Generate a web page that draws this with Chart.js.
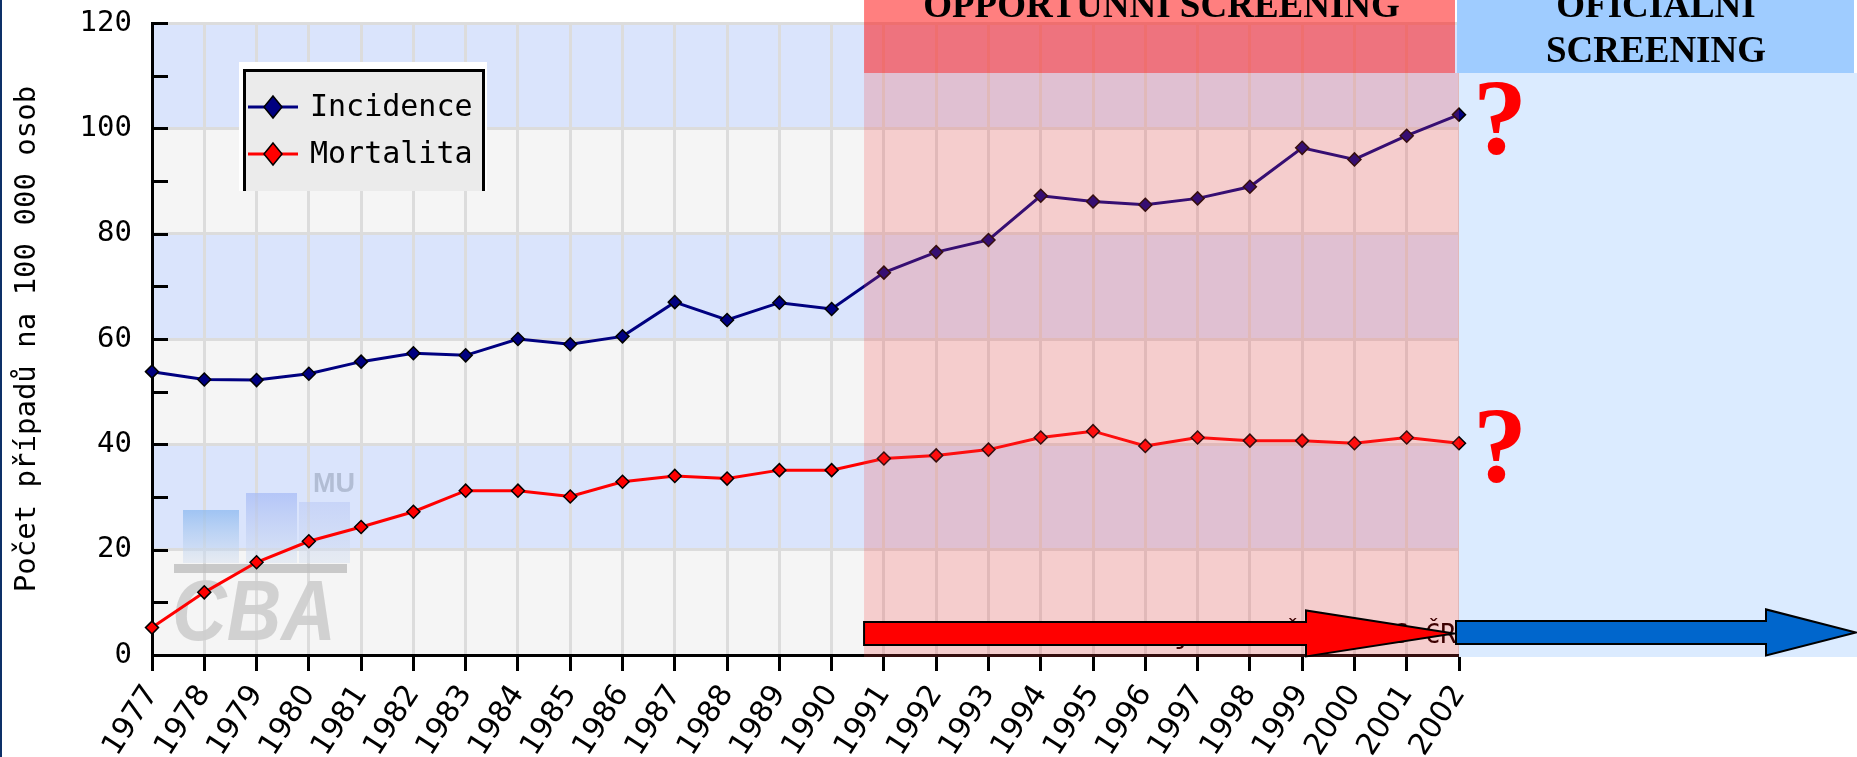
<!DOCTYPE html>
<html><head><meta charset="utf-8">
<script src="https://cdn.jsdelivr.net/npm/chart.js@4/dist/chart.umd.min.js"></script>
<style>html,body{margin:0;padding:0;background:#fff;overflow:hidden}canvas{display:block}</style>
</head><body>
<canvas id="c" width="1857" height="757"></canvas>
<script>
const years = ['1977','1978','1979','1980','1981','1982','1983','1984','1985','1986','1987','1988','1989','1990','1991','1992','1993','1994','1995','1996','1997','1998','1999','2000','2001','2002'];
const incidence = [53.8,52.3,52.2,53.4,55.7,57.3,56.9,60.0,59.0,60.5,67.0,63.6,66.9,65.7,72.6,76.5,78.8,87.2,86.1,85.5,86.7,88.9,96.3,94.1,98.6,102.6];
const mortality = [5.2,11.9,17.6,21.6,24.3,27.2,31.2,31.2,30.1,32.9,34.0,33.5,35.1,35.1,37.3,37.9,39.0,41.3,42.5,39.7,41.3,40.7,40.7,40.2,41.3,40.2];
const seriesNames = ['Incidence','Mortalita'];
const seriesColors = ['#000080','#ff0000'];
const yTickValues = [0,20,40,60,80,100,120];
const yAxisTitle = 'Počet případů na 100 000 osob';
const phaseNames = [['OPPORTUNNÍ SCREENING'],['OFICIÁLNÍ','SCREENING']];
const phaseStartIndex = [13.62, 25];
const sourceNote = 'Zdroj: NOR ČR, ÚZIS ČR';
const watermarkText = ['CBA','MU'];

const MONO = '"DejaVu Sans Mono", monospace';
const SERIF = '"Liberation Serif", "Times New Roman", serif';
const SANS = '"Liberation Sans", Arial, sans-serif';

function diamond(ctx, x, y, hw, hh, fill){
  ctx.beginPath();
  ctx.moveTo(x, y-hh); ctx.lineTo(x+hw, y); ctx.lineTo(x, y+hh); ctx.lineTo(x-hw, y); ctx.closePath();
  ctx.fillStyle = fill; ctx.fill();
  ctx.lineWidth = 1.5; ctx.strokeStyle = '#000'; ctx.stroke();
}

const decor = {
  id: 'decor',
  beforeDraw(chart){
    const {ctx, chartArea:a, scales:{y}} = chart;
    ctx.save();
    ctx.fillStyle = '#fff'; ctx.fillRect(0,0,chart.width,chart.height);
    for (let i=0;i<yTickValues.length-1;i++){
      const y0 = y.getPixelForValue(yTickValues[i]), y1 = y.getPixelForValue(yTickValues[i+1]);
      ctx.fillStyle = i%2===0 ? '#f5f5f5' : '#dae4fc';
      ctx.fillRect(a.left, y1, a.right-a.left, y0-y1);
    }
    ctx.fillStyle = '#0d3068'; ctx.fillRect(0,0,2,chart.height);
    ctx.restore();
  },
  beforeDatasetsDraw(chart){
    const {ctx, chartArea:a, scales:{x,y}} = chart;
    ctx.save();
    // watermark logo
    const bars = [[183,510,56,'rgba(140,185,240,0.75)'],[246,493,51,'rgba(160,182,245,0.65)'],[299,502,51,'rgba(185,200,245,0.55)']];
    bars.forEach(([bx,by,bw,c])=>{
      const g = ctx.createLinearGradient(0,by,0,563);
      g.addColorStop(0,c); g.addColorStop(1,'rgba(215,225,240,0.5)');
      ctx.fillStyle = g; ctx.fillRect(bx,by,bw,563-by);
    });
    ctx.fillStyle = 'rgba(190,190,190,0.8)'; ctx.fillRect(174,564,173,9);
    ctx.save();
    ctx.translate(172,640); ctx.scale(0.88,1);
    ctx.fillStyle = 'rgba(205,205,205,0.9)';
    ctx.font = 'italic bold 86px ' + SANS; ctx.textBaseline='alphabetic'; ctx.textAlign='left';
    ctx.fillText(watermarkText[0],0,0);
    ctx.restore();
    ctx.fillStyle = 'rgba(170,182,205,0.85)';
    ctx.font = 'bold 27px ' + SANS; ctx.textAlign='left';
    ctx.fillText(watermarkText[1],313,492);
    // inward y ticks every 10
    ctx.strokeStyle = '#000'; ctx.lineWidth = 3;
    for (let v=0; v<=120; v+=10){
      const py = Math.round(y.getPixelForValue(v)) + 0.5;
      ctx.beginPath(); ctx.moveTo(a.left, py); ctx.lineTo(a.left+16, py); ctx.stroke();
    }
    // blue body (official screening)
    const bx = x.getPixelForValue(phaseStartIndex[1]);
    ctx.fillStyle = 'rgb(219,235,255)';
    ctx.fillRect(bx, 73, chart.width-bx, a.bottom+2-73);
    ctx.restore();
  },
  afterDraw(chart){
    const {ctx, chartArea:a, scales:{x,y}} = chart;
    ctx.save();
    const rx = x.getPixelForValue(phaseStartIndex[0]);
    const bx = x.getPixelForValue(phaseStartIndex[1]);
    // red body
    ctx.fillStyle = 'rgba(245,64,64,0.22)';
    ctx.fillRect(rx, 73, bx-rx, a.bottom+2-73);
    // red header
    ctx.fillStyle = 'rgba(255,22,22,0.55)';
    ctx.fillRect(rx, 0, bx-4-rx, 73);
    // blue header
    ctx.fillStyle = 'rgb(159,204,255)';
    ctx.fillRect(bx-2, 0, chart.width-3-(bx-2), 73);
    // header texts
    ctx.fillStyle = '#000'; ctx.textAlign='center'; ctx.textBaseline='alphabetic';
    ctx.font = 'bold 37px ' + SERIF;
    ctx.fillText(phaseNames[0][0], (rx+bx)/2, 17);
    const bc = (bx + chart.width)/2 - 2;
    ctx.fillText(phaseNames[1][0], bc, 17);
    ctx.fillText(phaseNames[1][1], bc, 62);
    // question marks next to last values
    ctx.fillStyle = '#ff0000'; ctx.font = 'bold 108px ' + SERIF;
    const last = years.length-1;
    [incidence, mortality].forEach(arr=>{
      const py = y.getPixelForValue(arr[last]);
      ctx.fillText('?', x.getPixelForValue(last)+41, py+38);
    });
    // legend
    ctx.fillStyle = '#fff'; ctx.fillRect(239,62,248,129);
    ctx.fillStyle = '#ebebeb'; ctx.fillRect(244,70,240,121);
    ctx.strokeStyle = '#000'; ctx.lineWidth = 3;
    ctx.beginPath(); ctx.moveTo(244.5,191); ctx.lineTo(244.5,70.5); ctx.lineTo(483.5,70.5); ctx.lineTo(483.5,191); ctx.stroke();
    seriesNames.forEach((n,i)=>{
      const ly = 107 + i*47;
      ctx.strokeStyle = seriesColors[i]; ctx.lineWidth = 3;
      ctx.beginPath(); ctx.moveTo(248,ly); ctx.lineTo(298,ly); ctx.stroke();
      diamond(ctx, 273, ly, 9, 11, seriesColors[i]);
      ctx.fillStyle = '#000'; ctx.font = '30px ' + MONO; ctx.textAlign='left'; ctx.textBaseline='middle';
      ctx.fillText(n, 310, ly+1);
    });
    // source note (mostly hidden behind arrows)
    ctx.fillStyle = '#3c0000'; ctx.font = '26px ' + MONO; ctx.textAlign='right'; ctx.textBaseline='alphabetic';
    ctx.fillText(sourceNote, bx-3, 643);
    // arrows
    const ay = y.getPixelForValue(4.1);
    function arrow(x0, xh, xt, fill){
      ctx.beginPath();
      ctx.moveTo(x0, ay-11.5); ctx.lineTo(xh, ay-11.5); ctx.lineTo(xh, ay-23);
      ctx.lineTo(xt, ay); ctx.lineTo(xh, ay+23); ctx.lineTo(xh, ay+11.5); ctx.lineTo(x0, ay+11.5); ctx.closePath();
      ctx.fillStyle = fill; ctx.fill();
      ctx.lineWidth = 2; ctx.strokeStyle = '#000'; ctx.stroke();
    }
    arrow(rx, bx-153, bx-5, '#ff0000');
    ctx.save(); ctx.translate(0,-1);
    arrow(bx-3, chart.width-91, chart.width-1, '#0066cc');
    ctx.restore();
    ctx.restore();
  }
};

new Chart(document.getElementById('c'), {
  type: 'line',
  data: {
    labels: years,
    datasets: seriesNames.map((n,i)=>({
      label: n,
      data: i ? mortality : incidence,
      borderColor: seriesColors[i],
      backgroundColor: seriesColors[i],
      borderWidth: 3,
      pointStyle: 'rectRot',
      pointRadius: 6.5,
      pointBorderColor: '#000',
      pointBorderWidth: 1.5,
      pointBackgroundColor: seriesColors[i],
      tension: 0,
      fill: false
    }))
  },
  options: {
    responsive: false,
    devicePixelRatio: 1,
    animation: false,
    events: [],
    layout: { padding: { left: 0, top: 23, right: 398, bottom: 0 } },
    plugins: { legend: { display: false }, tooltip: { enabled: false } },
    scales: {
      x: {
        grid: { color: '#dcdcdc', lineWidth: 3, tickColor: '#000', tickLength: 16, tickWidth: 3, offset: false },
        border: { color: '#000', width: 3 },
        ticks: { autoSkip: false, maxRotation: 57, minRotation: 57, padding: 8, color: '#000', font: { family: 'DejaVu Sans', size: 30 } },
        afterFit(s){ s.height = 102; s.paddingLeft = 0; s.paddingRight = 0; s.paddingTop = 0; s.paddingBottom = 0; }
      },
      y: {
        min: 0, max: 120,
        ticks: { stepSize: 20, padding: 20, color: '#000', font: { family: MONO, size: 29 } },
        grid: { color: '#dcdcdc', lineWidth: 3, drawTicks: false },
        border: { color: '#000', width: 3 },
        title: { display: true, text: yAxisTitle, color: '#000', font: { family: MONO, size: 29 }, padding: { top: 10, bottom: 0 } },
        afterFit(s){ s.width = 152; s.paddingTop = 0; s.paddingBottom = 0; s.paddingLeft = 0; s.paddingRight = 0; }
      }
    }
  },
  plugins: [decor]
});
</script>
</body></html>
